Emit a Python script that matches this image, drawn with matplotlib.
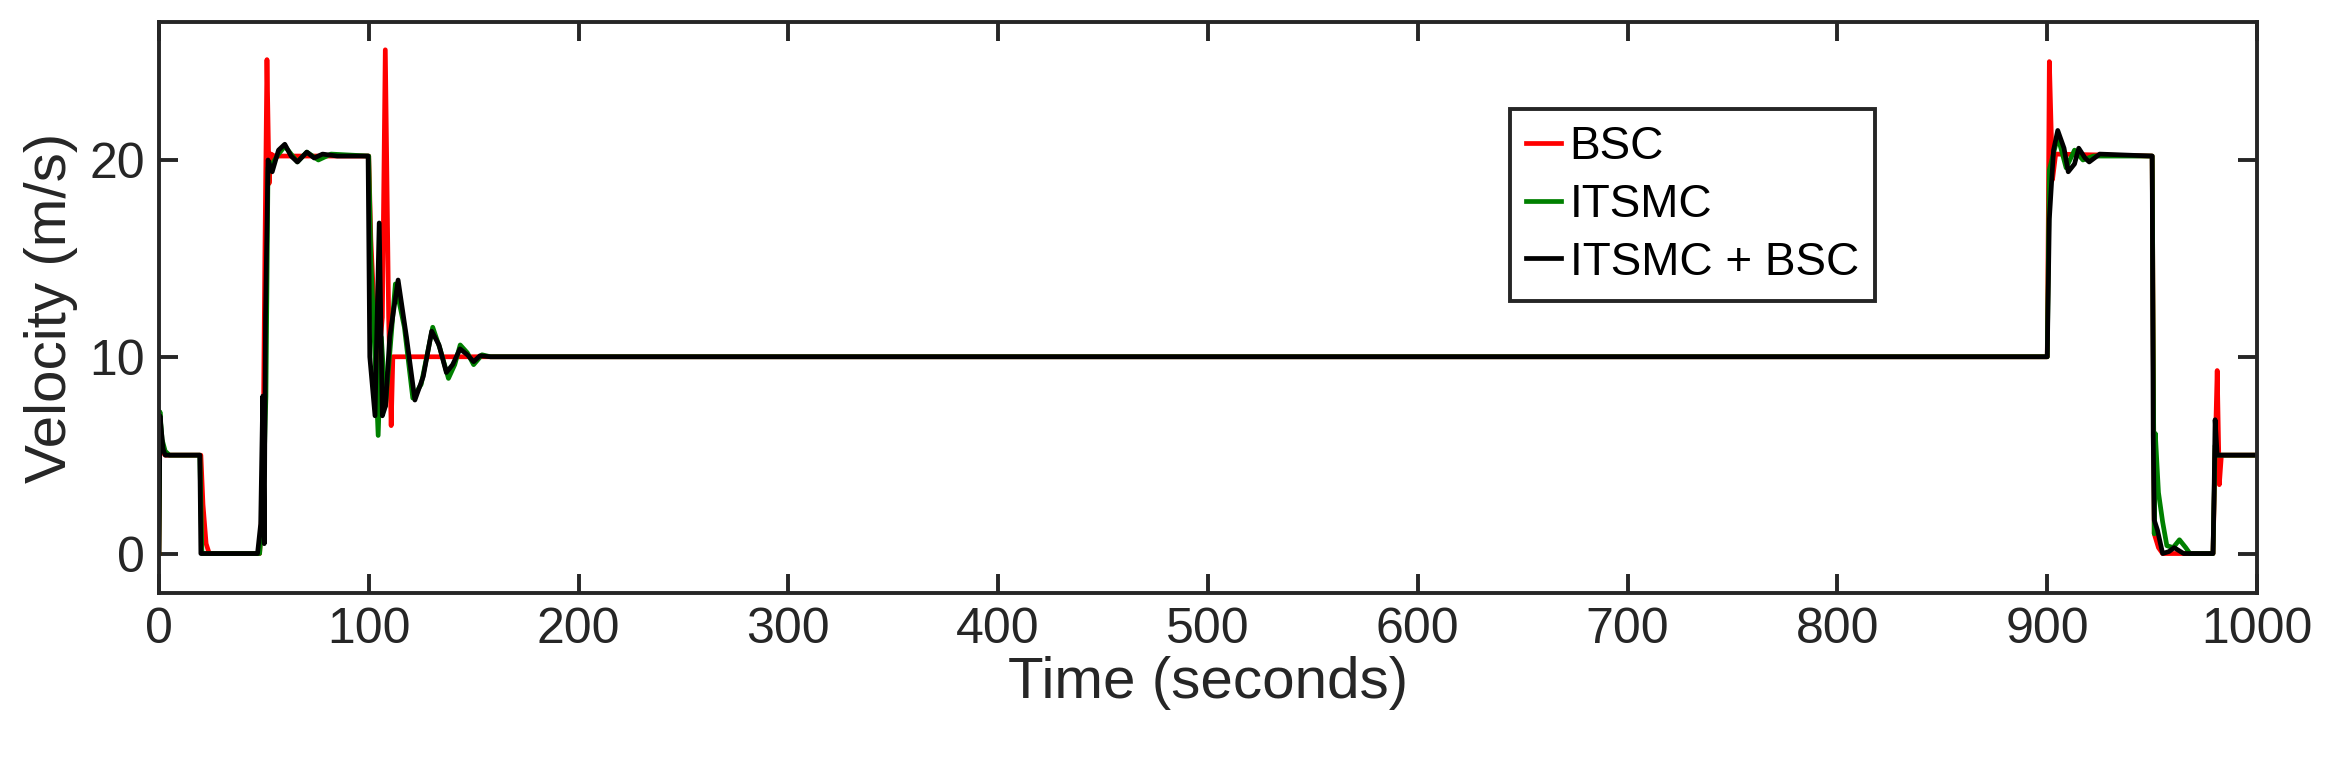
import matplotlib
matplotlib.use("Agg")
import matplotlib.pyplot as plt

plt.rcParams["font.family"] = ["Liberation Sans", "DejaVu Sans"]

# BSC (red)
bsc_t = [0, 0.5, 1.5, 3, 20, 21, 22.5, 24, 48, 49.5, 50.5, 51.5, 52.5, 53.5, 55, 100, 101,
         104, 106.5, 107.9, 109.5, 110.7, 111.5, 112, 900, 900.5, 901, 902.5, 904, 950,
         951, 953, 955, 960, 979, 980, 981, 982, 983, 1000]
bsc_v = [0, 6.5, 5.2, 5, 5, 2.5, 0.5, 0, 0, 3, 15, 25.1, 18.8, 20.3, 20.2, 20.2, 16,
         9, 12, 25.6, 12, 6.5, 10, 10, 10, 17, 25, 19, 20.3, 20.2,
         1, 0.3, 0, 0, 0, 5, 9.3, 3.5, 5, 5]

# ITSMC (green)
itsmc_t = [0, 0.5, 1.5, 3, 5, 19.5, 20.5, 48, 49.5, 51, 52, 54, 57, 60, 66, 70.5, 76, 82,
           100, 101, 103, 104.5, 106, 108, 112.7, 117, 121, 125, 130.5, 134, 138, 141,
           143.6, 147, 150, 154, 158, 900, 901, 905, 909, 913, 917, 922, 950, 951, 951.5,
           953, 955, 957, 960, 963, 966, 968, 979, 980, 981, 1000]
itsmc_v = [0, 7.2, 5.8, 5.2, 5, 5, 0, 0, 2, 8, 19.6, 19.8, 20.3, 20.7, 19.9, 20.4, 20.0, 20.3,
           20.2, 15, 10, 6, 11, 7.5, 13.7, 11.5, 7.9, 8.6, 11.5, 10.4, 8.9, 9.6,
           10.6, 10.2, 9.6, 10.1, 10, 10, 19.5, 21.2, 19.6, 20.5, 20.0, 20.2, 20.2, 1, 6.1,
           3.1, 1.6, 0.4, 0.3, 0.7, 0.3, 0, 0, 5.5, 5, 5]

# ITSMC + BSC (black)
combo_t = [0, 0.5, 2, 3, 19.5, 20, 47, 48.5, 49.5, 50.2, 50.8, 52, 54, 57, 60, 63, 66,
           70.5, 74, 78, 85, 99.7, 100.5, 103, 105, 106.5, 108, 110, 114, 118, 122,
           126, 130, 133.5, 137, 140, 143.5, 147, 150, 153, 158, 900, 901, 903, 905,
           908, 910, 913, 915, 918, 920, 925, 950, 950.5, 951, 952.5, 955, 958, 960.5,
           965, 979, 979.5, 980, 981, 1000]
combo_v = [0, 7, 5.3, 5, 5, 0, 0, 1.5, 8, 0.5, 12, 20, 19.4, 20.5, 20.8, 20.2, 19.9,
           20.4, 20.1, 20.3, 20.2, 20.2, 10, 7, 16.8, 7, 7.5, 11, 13.9, 11, 7.8,
           9, 11.3, 10.6, 9.2, 9.6, 10.4, 10.1, 9.75, 10.05, 10, 10, 17, 20.5, 21.5,
           20.6, 19.4, 19.8, 20.6, 20.1, 19.9, 20.3, 20.2, 6, 1.7, 1.2, 0, 0.1, 0.3,
           0, 0, 3, 6.8, 5, 5]

x_ticks = [0, 100, 200, 300, 400, 500, 600, 700, 800, 900, 1000]
y_ticks = [0, 10, 20]

fig = plt.figure(figsize=(23.3, 7.67), dpi=100)
ax = fig.add_axes([0.0682, 0.227, 0.9005, 0.744])

ax.plot(bsc_t, bsc_v, color="#ff0000", lw=3.4, label="BSC")
ax.plot(itsmc_t, itsmc_v, color="#008000", lw=3.4, label="ITSMC")
ax.plot(combo_t, combo_v, color="black", lw=3.4, label="ITSMC + BSC")

ax.set_xlim(0, 1000)
ax.set_ylim(-2, 27)
ax.set_xticks(x_ticks)
ax.set_yticks(y_ticks)
ax.tick_params(direction="in", length=14, width=2.8, labelsize=36,
               top=True, right=True, color="#262626", labelcolor="#262626", pad=10)
for s in ax.spines.values():
    s.set_linewidth(2.8)
    s.set_color("#262626")

ax.set_xlabel("Time (seconds)", fontsize=42, color="#262626", labelpad=2)
ax.set_ylabel("Velocity (m/s)", fontsize=42, color="#262626", labelpad=8)

leg = ax.legend(loc="upper left", bbox_to_anchor=(0.644, 0.848), fontsize=33,
                fancybox=False, framealpha=1, edgecolor="#262626",
                handlelength=0.75, handletextpad=0.2, borderpad=0.35,
                labelspacing=0.3, borderaxespad=0)
leg.get_frame().set_linewidth(2.8)

fig.savefig("out.png", dpi=100)
